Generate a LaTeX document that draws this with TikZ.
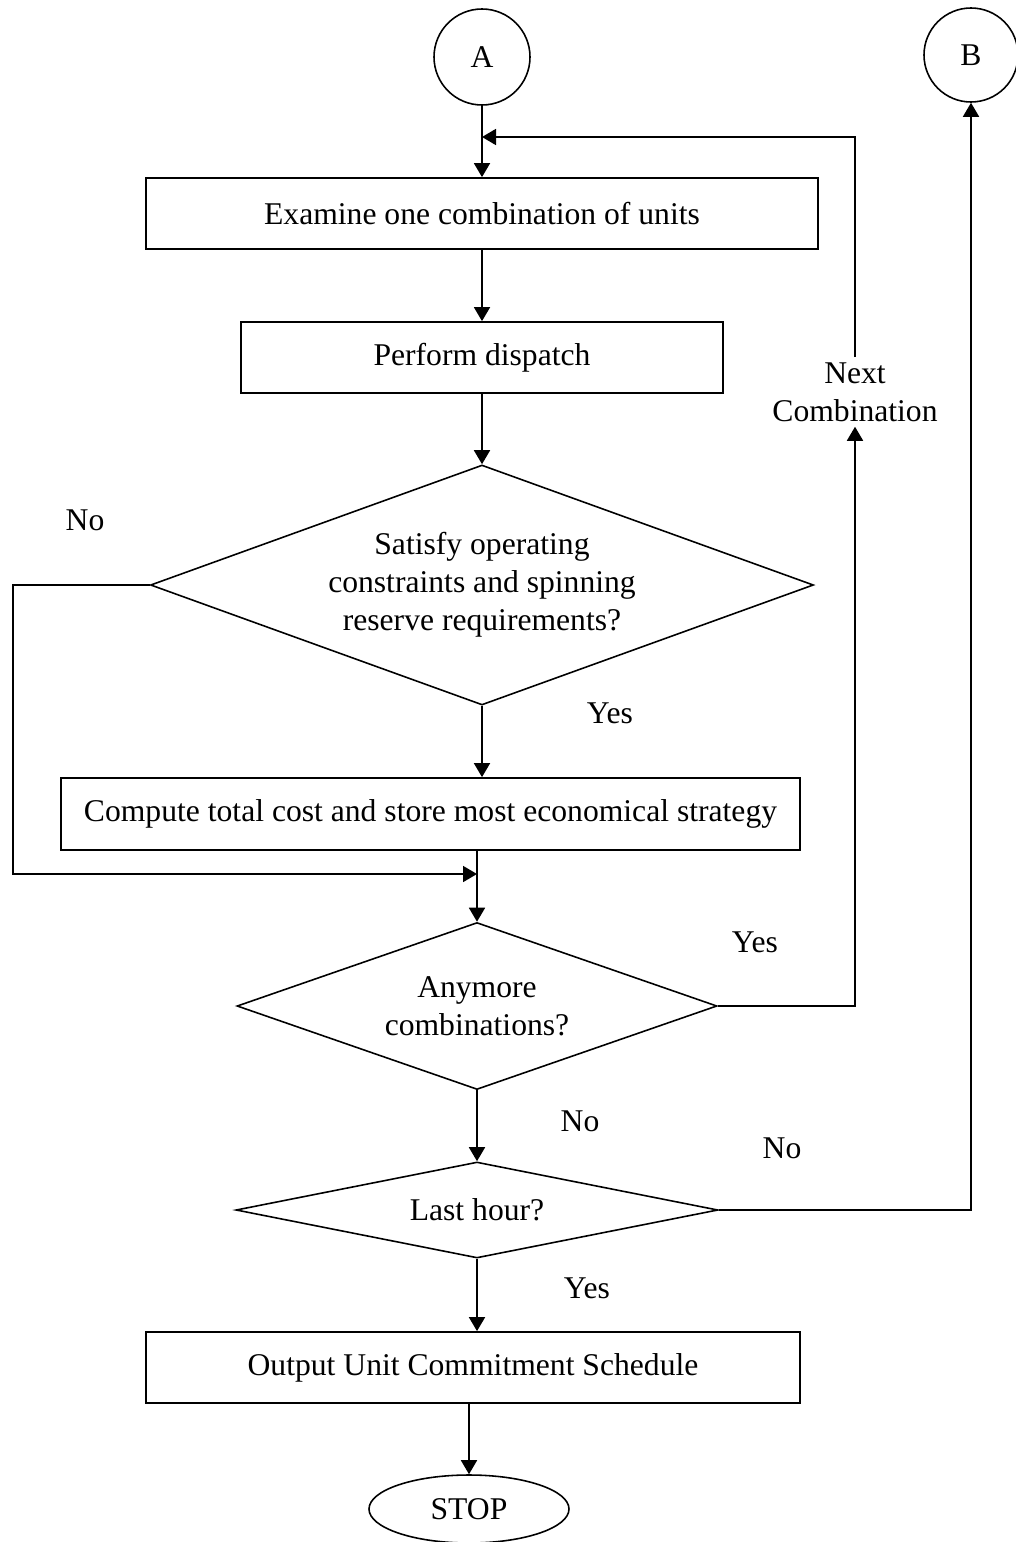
\documentclass[tikz,border=0pt]{standalone}
\usepackage{fontspec}
\setmainfont{Liberation Serif}
\usepackage{tikz}
\usetikzlibrary{shapes.geometric, arrows.meta, calc}
\tikzstyle{arrow} = [-{Triangle[length=2.8mm,width=3.2mm]},line width=1pt]
\tikzstyle{Process}=[rectangle,
		draw=black,
		line width=1pt,
		minimum height=14.2mm,
		inner sep=0pt]
\tikzstyle{Decision}=[diamond,
		draw=black,
		line width=0.9pt,
		inner sep=0pt,
		align=center]
\tikzstyle{Connector}=[circle,
		draw=black,
		line width=0.9pt,
		minimum size=19.2mm,
		inner sep=0pt]
\tikzstyle{Terminal}=[ellipse,
		draw=black,
		line width=0.9pt,
		minimum width=40mm,
		minimum height=13.6mm,
		inner sep=0pt]
\tikzstyle{Label}=[inner sep=0pt]

\begin{document}
\begin{tikzpicture}[x=0.2mm,y=-0.2mm,font=\fontsize{18}{21.5}\selectfont]
  \useasboundingbox (0,0) rectangle (1016,1542);

  % connectors
  \node [Connector] (A) at (482,57) {A};
  \node [Connector,minimum size=18.8mm] (B) at (971,55) {B};

  % main column
  \node [Process,minimum width=134.4mm] (examine) at (482,213.5) {Examine one combination of units};
  \node [Process,minimum width=96.4mm] (dispatch) at (482,357.5) {Perform dispatch};
  \node [Decision,aspect=2.8,minimum width=132.6mm,minimum height=48mm] (satisfy) at (482,585) {Satisfy operating\\constraints and spinning\\reserve requirements?};
  \node [Process,minimum width=147.8mm,minimum height=14.4mm] (compute) at (430.5,814) {Compute total cost and store most economical strategy};
  \node [Decision,aspect=2.9,minimum width=96mm,minimum height=33.4mm] (anymore) at (477,1006) {Anymore\\combinations?};
  \node [Decision,aspect=5,minimum width=96.4mm,minimum height=19.2mm] (lasthour) at (477,1210) {Last hour?};
  \node [Process,minimum width=130.8mm] (output) at (473,1367.5) {Output Unit Commitment Schedule};
  \node [Terminal] (stop) at (469,1509) {STOP};

  % branch labels
  \node [Label] (no1) at (85,520) {No};
  \node [Label] (yes1) at (610,713) {Yes};
  \node [Label] (yes2) at (755,942) {Yes};
  \node [Label] (no2) at (580,1121) {No};
  \node [Label] (no3) at (782,1148) {No};
  \node [Label] (yes3) at (587,1288) {Yes};
  \node [Label,align=center,inner ysep=1mm] (nextlbl) at (855,392) {Next\\Combination};

  \coordinate (loopin) at (482,137);
  \coordinate (leftrail) at (13,585);
  \coordinate (nojoin) at (477,874);

  \draw[arrow] (A) -- (examine);
  \draw[arrow] (examine) -- (dispatch);
  \draw[arrow] (dispatch) -- (satisfy);
  \draw[arrow] (satisfy.south) -- (satisfy.south |- compute.north);
  \draw[arrow] (compute.south -| nojoin) -- (anymore.north);
  \draw[arrow] (anymore) -- (lasthour);
  \draw[arrow] (lasthour.south) -- (lasthour.south |- output.north);
  \draw[arrow] (output.south -| stop.north) -- (stop.north);

  % feedback arrows
  \draw[arrow] (satisfy.west) -- (leftrail) |- (nojoin);
  \draw[arrow] (anymore.east) -| (nextlbl.south);
  \draw[arrow] (nextlbl.north) |- (loopin);
  \draw[arrow] (lasthour.east) -| (B.south);

\end{tikzpicture}
\end{document}
